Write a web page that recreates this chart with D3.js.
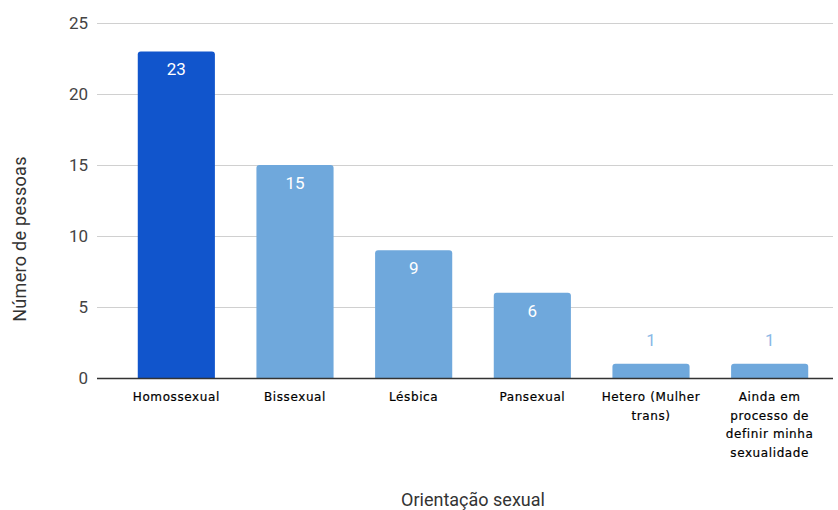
<!DOCTYPE html>
<html><head><meta charset="utf-8">
<script src="https://cdn.jsdelivr.net/npm/d3@7"></script>
<style>body{margin:0;background:#fff}svg{display:block}</style>
</head><body>
<svg id="c" width="838" height="510"></svg>
<script>
const categories = ["Homossexual","Bissexual","Lésbica","Pansexual","Hetero (Mulher trans)","Ainda em processo de definir minha sexualidade"];
const labelLines = [["Homossexual"],["Bissexual"],["Lésbica"],["Pansexual"],["Hetero (Mulher","trans)"],["Ainda em","processo de","definir minha","sexualidade"]];
const values = [23,15,9,6,1,1];
const yTicks = [0,5,10,15,20,25];
const xTitle = "Orientação sexual";
const yTitle = "Número de pessoas";

const svg = d3.select("#c");
const font = "Roboto, 'Liberation Sans', Arial, sans-serif";
const x = d3.scaleBand().domain(categories).range([117,829]).paddingInner(0.35).paddingOuter(0.175);
const y = d3.scaleLinear().domain([0,25]).range([378,23]);

// gridlines
svg.append("g").selectAll("line").data(yTicks.filter(d=>d>0)).join("line")
  .attr("x1",97).attr("x2",833).attr("y1",d=>y(d)+0.5).attr("y2",d=>y(d)+0.5)
  .attr("stroke","#d0d0d0").attr("stroke-width",1);

// y tick labels
svg.append("g").selectAll("text").data(yTicks).join("text")
  .attr("x",88).attr("y",d=>y(d)).attr("dy","0.35em").attr("text-anchor","end")
  .attr("font-family",font).attr("font-size",17).attr("fill","#444").text(d=>d);

// bars
const bw = x.bandwidth();
svg.append("g").selectAll("path").data(values).join("path")
  .attr("d",(d,i)=>{
    const x0=x(categories[i]), y0=y(d), h=y(0)-y(d), r=Math.min(3,h);
    return `M${x0},${y(0)}V${y0+r}Q${x0},${y0} ${x0+r},${y0}H${x0+bw-r}Q${x0+bw},${y0} ${x0+bw},${y0+r}V${y(0)}Z`;
  })
  .attr("fill",(d,i)=>i===0?"#1155cc":"#6fa8dc");

// zero line
svg.append("line").attr("x1",97).attr("x2",833).attr("y1",y(0)+0.5).attr("y2",y(0)+0.5)
  .attr("stroke","#333").attr("stroke-width",1.3);

// value labels
svg.append("g").selectAll("text").data(values).join("text")
  .attr("x",(d,i)=>x(categories[i])+bw/2)
  .attr("y",d=> (y(0)-y(d))>30 ? y(d)+18 : y(d)-24)
  .attr("dy","0.35em")
  .attr("text-anchor","middle").attr("font-family",font).attr("font-size",17)
  .attr("fill",d=>(y(0)-y(d))>30?"#ffffff":"#8ab8e6").text(d=>d);

// x labels
const xl = svg.append("g").selectAll("text").data(labelLines).join("text")
  .attr("x",(d,i)=>x(categories[i])+bw/2).attr("y",397)
  .attr("text-anchor","middle").attr("font-family","'DejaVu Sans', Verdana, sans-serif").attr("font-size",12)
  .attr("letter-spacing","0.6px").attr("fill","#000").attr("stroke","#000").attr("stroke-width",0.2);
xl.each(function(lines){
  const t=d3.select(this), cx=+t.attr("x");
  lines.forEach((l,j)=>t.append("tspan").attr("x",cx).attr("dy",j===0?"0.35em":"18.5").text(l));
});

// axis titles
svg.append("text").attr("x",473).attr("y",500).attr("dy","0.35em").attr("text-anchor","middle")
  .attr("font-family",font).attr("font-size",18).attr("fill","#333").text(xTitle);
svg.append("text").attr("transform","translate(20,239) rotate(-90)").attr("dy","0.35em")
  .attr("text-anchor","middle").attr("font-family",font).attr("font-size",18).attr("letter-spacing","0.3px").attr("fill","#333").text(yTitle);
</script>
</body></html>
